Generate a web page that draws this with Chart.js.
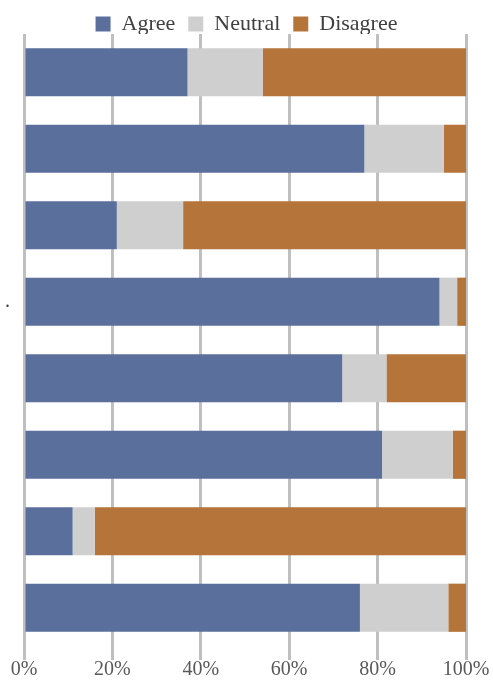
<!DOCTYPE html>
<html>
<head>
<meta charset="utf-8">
<script src="https://cdn.jsdelivr.net/npm/chart.js@4"></script>
<style>
  html, body { margin: 0; padding: 0; background: #fff; }
  #wrap { width: 493px; height: 680px; }
</style>
</head>
<body>
<div id="wrap"><canvas id="chart" width="493" height="680"></canvas></div>
<script>
// categories (labels not shown in the original, only a stray dot on row 4)
const categories = ['', '', '', '.', '', '', '', ''];
const agree    = [37, 77, 21, 94, 72, 81, 11, 76];
const neutral  = [17, 18, 15,  4, 10, 16,  5, 20];
const disagree = [46,  5, 64,  2, 18,  3, 84,  4];
const xTicks   = [0, 20, 40, 60, 80, 100];

const ctx = document.getElementById('chart').getContext('2d');

new Chart(ctx, {
    type: 'bar',
    data: {
        labels: categories,
        datasets: [
            { label: 'Agree', data: agree, backgroundColor: '#5a6f9c' },
            { label: 'Neutral', data: neutral, backgroundColor: '#d0cfcf' },
            { label: 'Disagree', data: disagree, backgroundColor: '#b5743a' }
        ]
    },
    options: {
        indexAxis: 'y',
        responsive: false,
        animation: false,
        layout: { padding: 0 },
        datasets: {
            bar: { categoryPercentage: 1, barPercentage: 0.63, borderWidth: 0 }
        },
        plugins: {
            tooltip: { enabled: false },
            legend: {
                position: 'top',
                maxHeight: 34,
                labels: {
                    boxWidth: 15,
                    boxHeight: 15,
                    padding: 13,
                    color: '#404040',
                    font: { family: 'Liberation Serif', size: 22 }
                }
            }
        },
        scales: {
            x: {
                stacked: true,
                min: 0,
                max: 100,
                afterBuildTicks: axis => { axis.ticks = xTicks.map(v => ({ value: v })); },
                afterFit: axis => { axis.paddingRight = 27; },
                ticks: {
                    callback: v => v + '%',
                    color: '#595959',
                    padding: 0,
                    maxRotation: 0,
                    font: { family: 'Liberation Serif', size: 20, lineHeight: 1 }
                },
                grid: { color: '#bfbfbf', lineWidth: 3, tickLength: 14 },
                border: { display: false }
            },
            y: {
                stacked: true,
                grid: { display: false },
                border: { display: false },
                afterFit: axis => { axis.width = 24; },
                ticks: {
                    color: '#404040',
                    padding: 6,
                    font: { family: 'Liberation Serif', size: 20 }
                }
            }
        }
    }
});
</script>
</body>
</html>
